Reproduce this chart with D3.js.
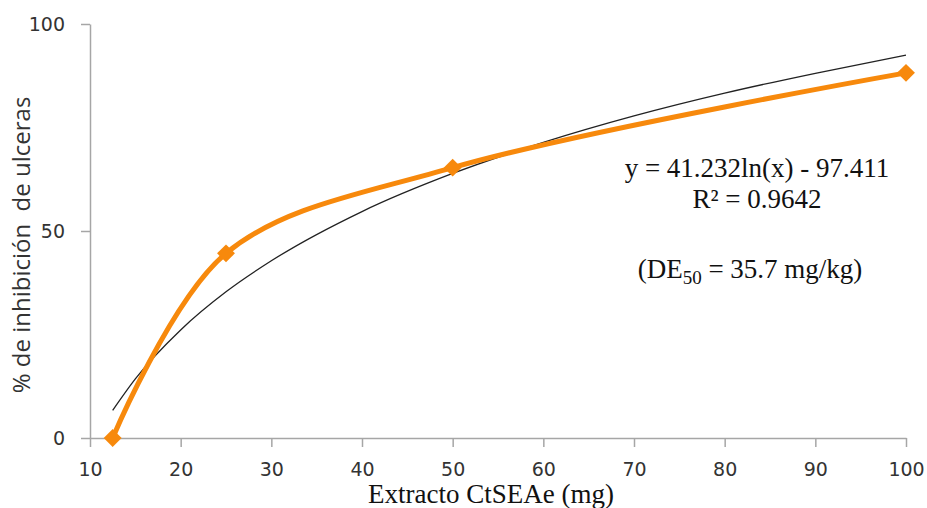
<!DOCTYPE html>
<html>
<head>
<meta charset="utf-8">
<script src="https://cdn.jsdelivr.net/npm/d3@7"></script>
<style>
  body { margin: 0; background: #fff; }
  svg { display: block; }
  .serif { font-family: "Liberation Serif", "Times New Roman", serif; fill: #111; }
</style>
</head>
<body>
<div id="chart"></div>
<script>
// dosis (mg) y % de inhibición
const dosis = [12.5, 25, 50, 100];
const inhibicion = [0, 44.6, 65.3, 88.2];

// línea de tendencia
const tendX = [12.5, 15, 20, 25, 30, 40, 50, 60, 70, 80, 90, 100];
const tendY = [6.7, 14.3, 26.1, 35.3, 42.8, 54.7, 63.9, 71.4, 77.8, 83.3, 88.1, 92.5];

const xTicks = [10, 20, 30, 40, 50, 60, 70, 80, 90, 100];
const yTicks = [0, 50, 100];

const width = 927, height = 508;
const margin = { top: 24, right: 21, bottom: 70, left: 90 };
const innerW = width - margin.left - margin.right;
const innerH = height - margin.top - margin.bottom;

const svg = d3.select("#chart").append("svg")
  .attr("width", width).attr("height", height);

const g = svg.append("g")
  .attr("transform", `translate(${margin.left},${margin.top})`);

const x = d3.scaleLinear().domain([10, 100]).range([0, innerW]);
const y = d3.scaleLinear().domain([0, 100]).range([innerH, 0]);

// ejes
const axX = g.append("g")
  .attr("transform", `translate(0,${innerH})`)
  .call(d3.axisBottom(x).tickValues(xTicks).tickSize(9).tickSizeOuter(0).tickPadding(16));
const axY = g.append("g")
  .call(d3.axisLeft(y).tickValues(yTicks).tickSize(9).tickSizeOuter(0).tickPadding(16));
[axX, axY].forEach(a => {
  a.select(".domain").attr("stroke", "#a6a6a6").attr("stroke-width", 1.5);
  a.selectAll(".tick line").attr("stroke", "#a6a6a6").attr("stroke-width", 1.5);
  a.selectAll(".tick text")
    .style("font-family", "'DejaVu Sans', Verdana, sans-serif")
    .style("font-size", "19px")
    .style("fill", "#333");
});

// tendencia logarítmica
g.append("path")
  .datum(tendX.map((v, i) => [v, tendY[i]]))
  .attr("fill", "none")
  .attr("stroke", "#222")
  .attr("stroke-width", 1.3)
  .attr("d", d3.line().x(d => x(d[0])).y(d => y(d[1])).curve(d3.curveMonotoneX));

// serie suavizada
const pts = dosis.map((v, i) => [v, inhibicion[i]]);
g.append("path")
  .datum(pts)
  .attr("fill", "none")
  .attr("stroke", "#f7890c")
  .attr("stroke-width", 5)
  .attr("d", d3.line().x(d => x(d[0])).y(d => y(d[1])).curve(d3.curveCatmullRom.alpha(0.5)));

g.selectAll("path.mk")
  .data(pts)
  .join("path")
  .attr("class", "mk")
  .attr("transform", d => `translate(${x(d[0])},${y(d[1])}) rotate(45)`)
  .attr("d", d3.symbol(d3.symbolSquare, 160))
  .attr("fill", "#f7890c");

// títulos
svg.append("text")
  .attr("class", "serif")
  .attr("x", 491).attr("y", 503)
  .attr("text-anchor", "middle")
  .style("font-size", "27px")
  .text("Extracto CtSEAe (mg)");

svg.append("text")
  .attr("transform", "translate(30,245) rotate(-90)")
  .attr("text-anchor", "middle")
  .style("font-family", "'Open Sans', 'DejaVu Sans', sans-serif")
  .style("font-size", "24px")
  .style("fill", "#333")
  .style("white-space", "pre")
  .text("% de inhibición  de ulceras");

// ecuación
const ann = svg.append("g").attr("class", "serif").style("font-size", "27px")
  .attr("text-anchor", "middle");
ann.append("text").attr("x", 757).attr("y", 177).text("y = 41.232ln(x) - 97.411");
ann.append("text").attr("x", 757).attr("y", 208).text("R² = 0.9642");
const de = ann.append("text").attr("x", 750).attr("y", 278);
de.append("tspan").text("(DE");
de.append("tspan").attr("dy", 6).style("font-size", "19px").text("50");
de.append("tspan").attr("dy", -6).text(" = 35.7 mg/kg)");
</script>
</body>
</html>
